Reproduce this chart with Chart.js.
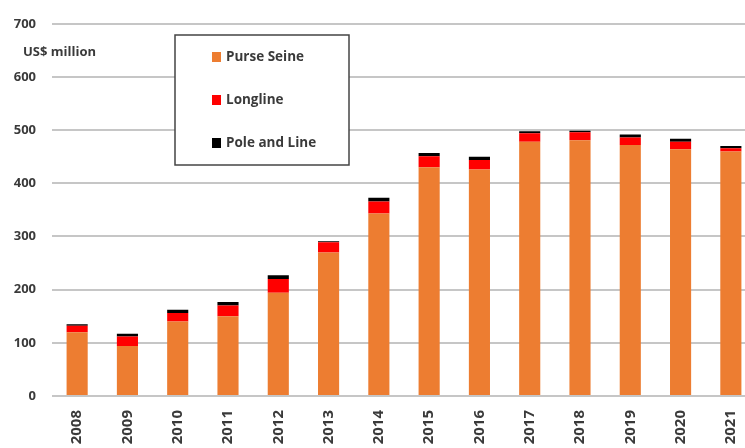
<!DOCTYPE html>
<html>
<head>
<meta charset="utf-8">
<script src="https://cdn.jsdelivr.net/npm/chart.js@4/dist/chart.umd.min.js"></script>
<style>
    html, body { margin: 0; padding: 0; background: #fff; overflow: hidden; }
    #wrap { width: 756px; height: 448px; }
</style>
</head>
<body>
<div id="wrap"><canvas id="Chart_Catch"></canvas></div>
<script>
// catch value by gear, US$ million
var years = ["2008", "2009", "2010", "2011", "2012", "2013", "2014", "2015", "2016", "2017", "2018", "2019", "2020", "2021"];
var purseSeine = [120, 94, 140, 150, 194, 270, 343, 430, 426, 478, 481, 472, 464, 460];
var longline = [12, 18, 16, 20, 26, 19, 23, 21, 18, 16, 15, 14, 14, 6];
var poleAndLine = [3, 5, 6, 7, 7, 2, 7, 6, 6, 4, 3, 6, 6, 4];
var yTicks = [0, 100, 200, 300, 400, 500, 600, 700];

var txtFont = "'Open Sans', 'Liberation Sans', sans-serif";
var txtColor = "#3a3a3a";

// legend box + unit label drawn inside the plot
var boxLegend = {
    id: "boxLegend",
    afterDraw: function (chart) {
        var ctx = chart.ctx;
        ctx.save();
        ctx.font = "bold 13px " + txtFont;
        ctx.fillStyle = txtColor;
        ctx.textBaseline = "middle";
        ctx.textAlign = "left";
        ctx.fillText("US$ million", 23, 52);

        ctx.fillStyle = "#fff";
        ctx.fillRect(175, 35, 174, 130);
        ctx.strokeStyle = "#444";
        ctx.lineWidth = 1.5;
        ctx.strokeRect(175, 35, 174, 130);

        ctx.font = "bold 13.5px " + txtFont;
        var ds = chart.data.datasets;
        for (var i = 0; i < ds.length; i++) {
            var y = 57 + i * 43;
            ctx.fillStyle = ds[i].backgroundColor;
            ctx.fillRect(212, y - 5, 9, 10);
            ctx.fillStyle = txtColor;
            ctx.fillText(ds[i].label, 226, y);
        }
        ctx.restore();
    }
};

var ctx = document.getElementById("Chart_Catch");

var chart = new Chart(ctx, {
    type: "bar",
    data: {
        labels: years,
        datasets: [
            { label: "Purse Seine", data: purseSeine, backgroundColor: "#ED7D31" },
            { label: "Longline", data: longline, backgroundColor: "#FF0000" },
            { label: "Pole and Line", data: poleAndLine, backgroundColor: "#000000" }
        ]
    },
    options: {
        responsive: true,
        maintainAspectRatio: false,
        animation: false,
        layout: { padding: { top: 18, right: 0, left: 0, bottom: 0 } },
        plugins: {
            legend: { display: false },
            tooltip: { enabled: false }
        },
        datasets: {
            bar: { categoryPercentage: 1, barPercentage: 0.42 }
        },
        scales: {
            x: {
                stacked: true,
                grid: { display: false },
                border: { display: false },
                ticks: {
                    minRotation: 90,
                    maxRotation: 90,
                    padding: 6,
                    color: txtColor,
                    font: { family: txtFont, size: 15, weight: "bold" }
                },
                afterFit: function (scale) { scale.height = 52; }
            },
            y: {
                stacked: true,
                min: 0,
                max: 700,
                afterBuildTicks: function (scale) {
                    scale.ticks = yTicks.map(function (v) { return { value: v }; });
                },
                grid: { color: "#c6c6c6", lineWidth: 2, drawTicks: false },
                border: { display: false },
                ticks: {
                    padding: 16,
                    color: txtColor,
                    font: { family: txtFont, size: 13, weight: "bold" }
                },
                afterFit: function (scale) { scale.width = 52; }
            }
        }
    },
    plugins: [boxLegend]
});
</script>
</body>
</html>
